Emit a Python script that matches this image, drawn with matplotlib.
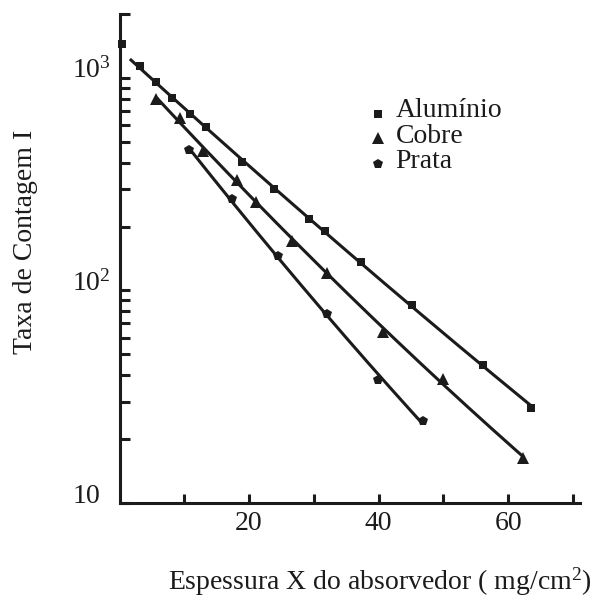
import numpy as np
import matplotlib
matplotlib.use("Agg")
import matplotlib.pyplot as plt
from matplotlib.ticker import FixedLocator, FixedFormatter, NullFormatter

plt.rcParams['font.family'] = ['Liberation Serif', 'DejaVu Serif']
plt.rcParams['mathtext.fontset'] = 'custom'
plt.rcParams['mathtext.rm'] = 'Liberation Serif'
plt.rcParams['mathtext.it'] = 'Liberation Serif:italic'
plt.rcParams['mathtext.bf'] = 'Liberation Serif:bold'

INK = '#1b1b1b'

# Count rate I versus absorber thickness X (mg/cm^2)
al_x = [0.4, 3.1, 5.6, 8.1, 10.9, 13.4, 18.9, 23.8, 29.3, 31.7, 37.3, 45.2, 56.1, 63.6]
al_y = [1445, 1138, 961, 802, 677, 586, 403, 299, 216, 191, 136, 85.5, 44.5, 28.1]
cu_x = [5.7, 9.3, 12.9, 18.1, 21.1, 26.7, 32.0, 40.7, 50.0, 62.3]
cu_y = [796, 646, 455, 331, 261, 171, 121, 64.0, 38.4, 16.2]
ag_x = [10.8, 17.3, 24.4, 32.1, 39.9, 46.8]
ag_y = [456, 269, 145, 77.4, 37.9, 24.4]

names = ['Alumínio', 'Cobre', 'Prata']
markers = ['s', '^', 'p']
marker_sizes = [5.8, 8.8, 7.0]

# fitted curve ranges (x start, x end) and first point used in each fit
fit_ranges = [(1.6, 63.6), (5.7, 62.3), (10.8, 46.8)]
fit_first = [1, 0, 0]

x_ticks_major = [20, 40, 60]
x_ticks_minor = [10, 30, 50, 70]
y_ticks_major = [10, 100, 1000]
y_tick_labels = ['$10$', '$10^2$', '$10^3$']
y_ticks_minor = [20, 30, 40, 50, 60, 70, 80, 90,
                 200, 300, 400, 500, 600, 700, 800, 900, 2000]

W, H = 596, 599
fig = plt.figure(figsize=(W / 100, H / 100), dpi=100)
ax = fig.add_axes([119.5 / W, 96 / H, 460.5 / W, 489 / H])
ax.set_yscale('log')
ax.set_xlim(0, 71.1)
ax.set_ylim(10, 2000)

series = [(al_x, al_y), (cu_x, cu_y), (ag_x, ag_y)]
for (xs, ys), m, ms, (x0, x1), k in zip(series, markers, marker_sizes,
                                         fit_ranges, fit_first):
    xs = np.asarray(xs, float)
    ys = np.asarray(ys, float)
    coef = np.polyfit(xs[k:], np.log10(ys[k:]), 2)
    xf = np.linspace(x0, x1, 200)
    ax.plot(xf, 10 ** np.polyval(coef, xf), color=INK, lw=2.2,
            solid_capstyle='butt', zorder=2)
    ax.plot(xs, ys, linestyle='none', marker=m, ms=ms, color=INK,
            mec=INK, mew=0, zorder=3, clip_on=False)

for side in ('top', 'right'):
    ax.spines[side].set_visible(False)
for side in ('left', 'bottom'):
    ax.spines[side].set_linewidth(2.2)
    ax.spines[side].set_color(INK)

ax.xaxis.set_major_locator(FixedLocator(x_ticks_major))
ax.xaxis.set_minor_locator(FixedLocator(x_ticks_minor))
ax.xaxis.set_minor_formatter(NullFormatter())
ax.yaxis.set_major_locator(FixedLocator(y_ticks_major))
ax.yaxis.set_major_formatter(FixedFormatter(y_tick_labels))
ax.yaxis.set_minor_locator(FixedLocator(y_ticks_minor))
ax.yaxis.set_minor_formatter(NullFormatter())

ax.tick_params(which='both', direction='in', color=INK, width=2.2,
               labelcolor=INK, labelsize=20)
ax.tick_params(axis='x', which='both', length=6.5, pad=6)
ax.tick_params(axis='y', which='both', length=7, pad=34)
for lab in ax.get_yticklabels():
    lab.set_horizontalalignment('left')
    lab.set_verticalalignment('baseline')


def fig_pt(px, py):
    return px / W, 1 - py / H


# legend block
leg_marker_y = [114.3, 138.3, 164.0]
leg_text_y = [117.0, 142.7, 168.3]
leg_marker_sizes = [5.2, 8.2, 7.0]
for name, m, ms, my, ty in zip(names, markers, leg_marker_sizes,
                               leg_marker_y, leg_text_y):
    fig.lines.append(plt.Line2D([377.7 / W], [1 - my / H], marker=m, ms=ms,
                                color=INK, mew=0, linestyle='none',
                                transform=fig.transFigure))
    fig.text(*fig_pt(395.7, ty), name, fontsize=20, color=INK,
             ha='left', va='baseline')

fig.text(*fig_pt(380, 590), 'Espessura X do absorvedor ( mg/cm$^2$)',
         fontsize=20, color=INK, ha='center', va='baseline')
fig.text(*fig_pt(26, 241.7), 'Taxa de Contagem I', fontsize=20, color=INK,
         rotation=90, ha='center', va='center')

fig.savefig('out.png', dpi=100)
